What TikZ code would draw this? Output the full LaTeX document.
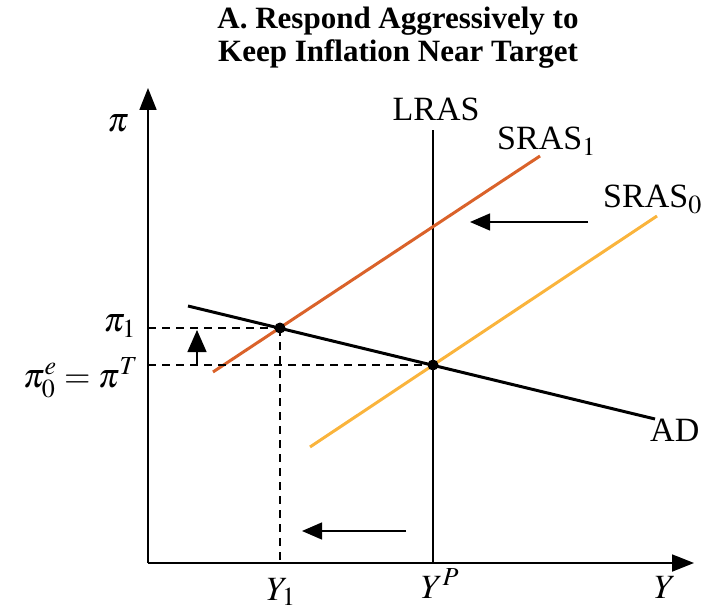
\documentclass[tikz,border=0pt]{standalone}
\usepackage{mathptmx}
\usepackage{fontspec}
\setmainfont{Liberation Serif}
\DeclareMathSizes{34}{34}{26}{20}
\usetikzlibrary{arrows.meta}
\definecolor{sras1}{RGB}{218,98,42}
\definecolor{sras0}{RGB}{250,180,60}
\begin{document}
\begin{tikzpicture}[x=1pt,y=-1pt,
  lbl/.style={font=\fontsize{34}{38}\selectfont, inner sep=0pt},
  axisline/.style={line width=1.8pt, -{Triangle[length=22pt,width=17pt]}},
  curve/.style={line width=3pt},
  guide/.style={line width=1.2pt, dash pattern=on 8pt off 6pt},
  shiftarrow/.style={line width=1.3pt, -{Triangle[length=20pt,width=17pt]}},
  dot/.style={circle, fill=black, inner sep=0pt, minimum size=11pt}]
\useasboundingbox (0,0) rectangle (706,612);
% title
\node[font=\bfseries\fontsize{31}{33}\selectfont, align=center, inner sep=0pt] (title) at (398,38) {A. Respond Aggressively to\\Keep Inflation Near Target};
% axes
\coordinate (O) at (148,563);
\coordinate (ytop) at (148,88);
\coordinate (xend) at (694,563);
\draw[axisline] (O) -- (ytop);
\draw[axisline] (O) -- (xend);
% LRAS
\coordinate (lrasT) at (433,130);
\coordinate (lrasB) at (433,563);
\draw[line width=2.2pt] (lrasB) -- (lrasT);
% curves
\coordinate (s1a) at (213,372); \coordinate (s1b) at (540,156);
\coordinate (s0a) at (310,447); \coordinate (s0b) at (657,216);
\coordinate (ada) at (188,306); \coordinate (adb) at (655,419);
\draw[curve, sras1] (s1a) -- (s1b);
\draw[curve, sras0] (s0a) -- (s0b);
\draw[curve, black] (ada) -- (adb);
% equilibria
\node[dot] (e1) at (280,328) {};
\node[dot] (e0) at (433,365) {};
% guides
\coordinate (p1) at (148,328);
\coordinate (p0) at (148,365);
\coordinate (y1) at (280,563);
\draw[guide] (p1) -- (e1.center);
\draw[guide] (p0) -- (e0.center);
\draw[guide] (e1.center) -- (y1);
% shift arrows
\coordinate (upA) at (197,366); \coordinate (upB) at (197,330);
\draw[line width=1.3pt, -{Triangle[length=22pt,width=19pt]}] (upA) -- (upB);
\coordinate (ra) at (588,222); \coordinate (rb) at (470,222);
\draw[shiftarrow] (ra) -- (rb);
\coordinate (ba) at (406,531); \coordinate (bb) at (302,531);
\draw[shiftarrow] (ba) -- (bb);
% labels
\node[lbl] (lpi) at (118,123) {$\pi$};
\node[lbl, anchor=base] (llras) at (436,121) {LRAS};
\node[lbl, anchor=base west] (ls1) at (497,150) {SRAS$_1$};
\node[lbl, anchor=base west] (ls0) at (603,208) {SRAS$_0$};
\node[lbl, anchor=base west] (lad) at (650,441) {AD};
\node[lbl, anchor=east] (lp1) at (136,326) {$\pi_1$};
\node[lbl, anchor=east] (lp0) at (138,378) {$\pi_0^e=\pi^T$};
\node[lbl, anchor=base] (ly1) at (281,600) {$Y_1$};
\node[lbl, anchor=base] (lyp) at (440,598) {$Y^P$};
\node[lbl, anchor=base] (ly) at (665,598) {$Y$};
\end{tikzpicture}
\end{document}
